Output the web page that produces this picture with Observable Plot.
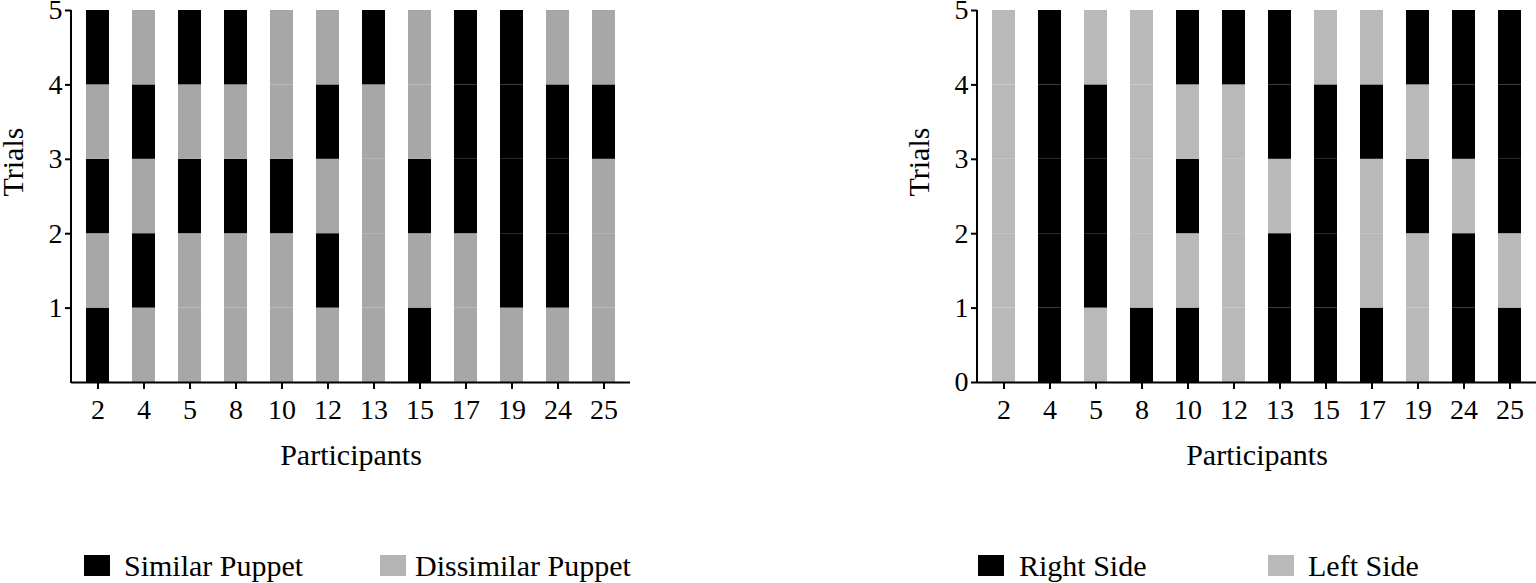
<!DOCTYPE html>
<html>
<head>
<meta charset="utf-8">
<script src="https://cdn.jsdelivr.net/npm/d3@7"></script>
<script src="https://cdn.jsdelivr.net/npm/@observablehq/plot@0.6"></script>
<style>
  html, body { margin: 0; padding: 0; background: #fff; width: 1536px; height: 583px; overflow: hidden; }
  body { position: relative; font-family: "Liberation Serif", "Times New Roman", serif; }
  .panel { position: absolute; top: 0; }
  .panel svg, .panel svg text { font-family: "Liberation Serif", "Times New Roman", serif !important; }
  .panel svg g[aria-label$="tick label"],
  .panel svg g[aria-label$="tick label"] text { font-size: 28px !important; fill: #000; }
  .legend { position: absolute; top: 552px; height: 30px; font-size: 30px; line-height: 30px; color: #000; }
  .item { position: absolute; top: 0; white-space: nowrap; }
  .sw { position: absolute; top: 3px; width: 26px; height: 21px; }
  .lab { position: absolute; top: -1px; }
</style>
</head>
<body>
<div id="left" class="panel" style="left:0px"></div>
<div id="right" class="panel" style="left:906px"></div>
<div id="legendLeft" class="legend" style="left:0px"></div>
<div id="legendRight" class="legend" style="left:0px"></div>
<script>
// ---- data ----
const participants = [2, 4, 5, 8, 10, 12, 13, 15, 17, 19, 24, 25];
const trialNumbers = [1, 2, 3, 4, 5];

// Puppet choice per participant, trials 1..5 (S = Similar, D = Dissimilar)
const puppetChoices = [
  ["S","D","S","D","S"], // 2
  ["D","S","D","S","D"], // 4
  ["D","D","S","D","S"], // 5
  ["D","D","S","D","S"], // 8
  ["D","D","S","D","D"], // 10
  ["D","S","D","S","D"], // 12
  ["D","D","D","D","S"], // 13
  ["S","D","S","D","D"], // 15
  ["D","D","S","S","S"], // 17
  ["D","S","S","S","S"], // 19
  ["D","S","S","S","D"], // 24
  ["D","D","D","S","D"]  // 25
];

// Side choice per participant, trials 1..5 (R = Right, L = Left)
const sideChoices = [
  ["L","L","L","L","L"], // 2
  ["R","R","R","R","R"], // 4
  ["L","R","R","R","L"], // 5
  ["R","L","L","L","L"], // 8
  ["R","L","R","L","R"], // 10
  ["L","L","L","L","R"], // 12
  ["R","R","L","R","R"], // 13
  ["R","R","R","R","L"], // 15
  ["R","L","L","R","L"], // 17
  ["L","L","R","L","R"], // 19
  ["R","R","L","R","R"], // 24
  ["R","L","R","R","R"]  // 25
];

const puppetCodes = ["S", "D"];
const puppetLabels = ["Similar Puppet", "Dissimilar Puppet"];
const sideCodes = ["R", "L"];
const sideLabels = ["Right Side", "Left Side"];

const leftTicks = [1, 2, 3, 4, 5];
const rightTicks = [0, 1, 2, 3, 4, 5];
const xLabel = "Participants";
const yLabel = "Trials";

// ---- helpers ----
function toRows(choices) {
  const rows = [];
  participants.forEach((p, i) => {
    trialNumbers.forEach((t, j) => {
      rows.push({p: String(p), t0: t - 1, t1: t, c: choices[i][j]});
    });
  });
  return rows;
}

const FONT = "'Liberation Serif', 'Times New Roman', serif";

function panel(rows, codes, colors, yTicks, width, marginRight) {
  const marginLeft = 71;
  const plot = Plot.plot({
    width, height: 490,
    marginLeft, marginRight, marginTop: 10, marginBottom: 108,
    style: {fontFamily: FONT, fontSize: "28px", color: "#000", background: "transparent", overflow: "visible"},
    x: {type: "band", domain: participants.map(String), paddingInner: 0.5, paddingOuter: 0.27},
    y: {domain: [0, 5]},
    color: {domain: codes, range: colors},
    marks: [
      Plot.rectY(rows, {x: "p", y1: "t0", y2: "t1", fill: "c"}),
      Plot.ruleY([0], {stroke: "#000", strokeWidth: 2}),
      Plot.axisX({tickSize: 7, tickPadding: 10, label: null, stroke: "#000", strokeWidth: 2, fontSize: 28}),
      Plot.axisY({ticks: yTicks, tickFormat: d3.format("d"), tickSize: 6, tickPadding: 3, label: null, strokeWidth: 2, fontSize: 28}),
      Plot.text([xLabel], {frameAnchor: "bottom", dy: 82, fontSize: 30, fill: "#000"}),
      Plot.text([yLabel], {frameAnchor: "left", dx: -58, rotate: -90, fontSize: 30, fill: "#000"})
    ]
  });
  // y axis line along the left edge of the frame, from the y scale's range
  const yr = plot.scale("y").range;
  d3.select(plot).append("line")
    .attr("x1", marginLeft).attr("x2", marginLeft)
    .attr("y1", yr[0] + 1).attr("y2", yr[1])
    .attr("stroke", "#000").attr("stroke-width", 2);
  return plot;
}

document.getElementById("left").append(
  panel(toRows(puppetChoices), puppetCodes, ["#000000", "#a7a7a7"], leftTicks, 700, 70)
);
document.getElementById("right").append(
  panel(toRows(sideChoices), sideCodes, ["#000000", "#b9b9b9"], rightTicks, 630, 0)
);

function legend(el, labels, colors, positions) {
  labels.forEach((lab, i) => {
    const item = document.createElement("div");
    item.className = "item";
    item.style.left = positions[i][0] + "px";
    const sw = document.createElement("div");
    sw.className = "sw";
    sw.style.left = "0px";
    sw.style.background = colors[i];
    const tx = document.createElement("div");
    tx.className = "lab";
    tx.style.left = (positions[i][1] - positions[i][0]) + "px";
    tx.textContent = lab;
    item.append(sw, tx);
    el.append(item);
  });
}
legend(document.getElementById("legendLeft"), puppetLabels, ["#000000", "#b4b4b4"], [[84, 124], [380, 415]]);
legend(document.getElementById("legendRight"), sideLabels, ["#000000", "#b9b9b9"], [[978, 1019], [1268, 1308]]);
</script>
</body>
</html>
